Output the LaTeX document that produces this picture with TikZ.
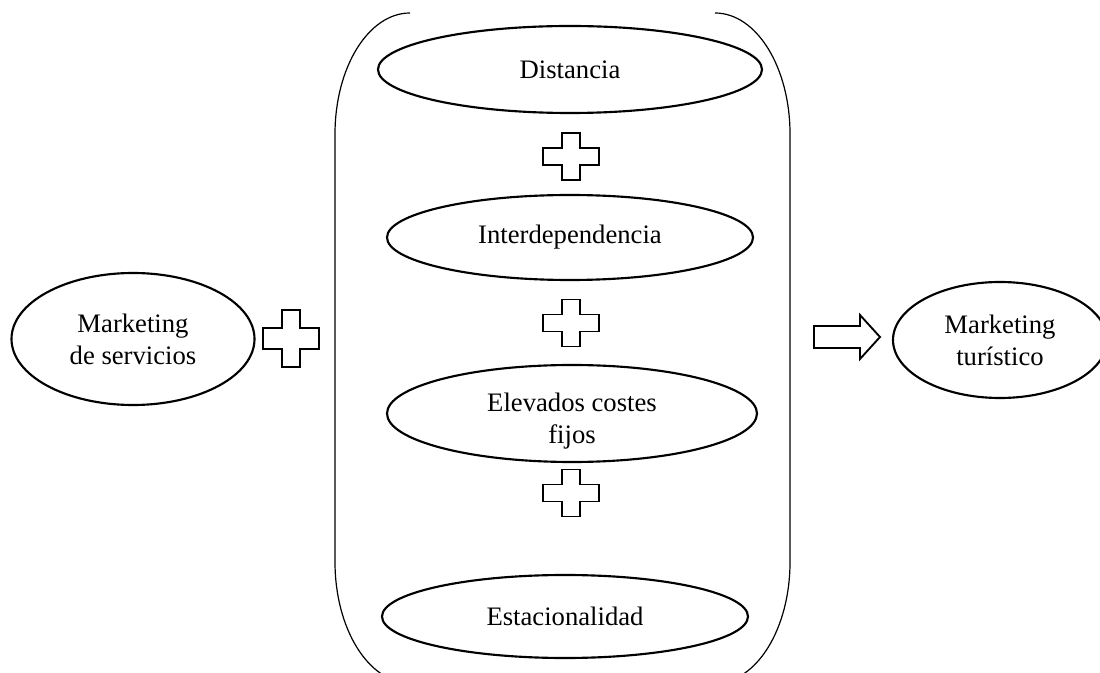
\documentclass[tikz,border=0pt]{standalone}
\usepackage{fontspec}
\setmainfont{Liberation Serif}
\usetikzlibrary{shapes.geometric}
\tikzset{
  ovaltext/.style={inner sep=0pt, align=center, font=\fontsize{20}{24}\selectfont},
  oval/.style={ellipse, draw, line width=1.6pt, ovaltext},
  bracketline/.style={line width=0.9pt},
  plusline/.style={draw, line width=1.4pt, fill=white, line join=miter},
  blockarrow/.style={draw, line width=1.4pt, fill=white, line join=miter},
  pics/plussign/.style={code={
    \draw[plusline] (-9,-23.5) -- (9,-23.5) -- (9,-8.5) -- (28,-8.5) -- (28,8.5)
      -- (9,8.5) -- (9,23.5) -- (-9,23.5) -- (-9,8.5) -- (-28,8.5) -- (-28,-8.5)
      -- (-9,-8.5) -- cycle;}}
}
\begin{document}
\begin{tikzpicture}[x=0.75pt,y=-0.75pt]
\path[use as bounding box] (0,0) rectangle (1100,673);
\clip (0,0) rectangle (1100,673);

% double bracket container
\draw[bracketline] (410,13) .. controls (368.6,13) and (335,67.2) .. (335,134)
  -- (335,562) .. controls (335,628.8) and (368.6,683) .. (410,683);
\draw[bracketline] (715,13) .. controls (756.4,13) and (790,67.2) .. (790,134)
  -- (790,562) .. controls (790,628.8) and (756.4,683) .. (715,683);

% ovals
\node[oval, minimum width=288pt, minimum height=65.25pt] (dist) at (570,69.5) {Distancia};
\node[oval, minimum width=274.5pt, minimum height=63.75pt] (inter) at (570,237.5) {Interdependencia};
\node[oval, minimum width=277.5pt, minimum height=72.75pt] (elev) at (572,413.5) {};
\node[ovaltext] (elevtext) at ([yshift=-6pt]elev.center) {Elevados costes\\fijos};
\node[oval, minimum width=274.5pt, minimum height=62.25pt] (estac) at (565,616.5) {Estacionalidad};
\node[oval, minimum width=182.25pt, minimum height=99pt] (mserv) at (133,339) {Marketing\\de servicios};
\node[oval, minimum width=160.5pt, minimum height=87pt] (mtur) at (1000,340) {Marketing\\turístico};

% plus signs
\pic at (291,338.5) [yscale=1.2] {plussign};
\pic at (571,156.5) {plussign};
\pic at (571,323) {plussign};
\pic at (571,493) {plussign};

% block arrow
\draw[blockarrow] (814,326) -- (860,326) -- (860,315) -- (880,337) -- (860,359)
  -- (860,348) -- (814,348) -- cycle;
\end{tikzpicture}
\end{document}
